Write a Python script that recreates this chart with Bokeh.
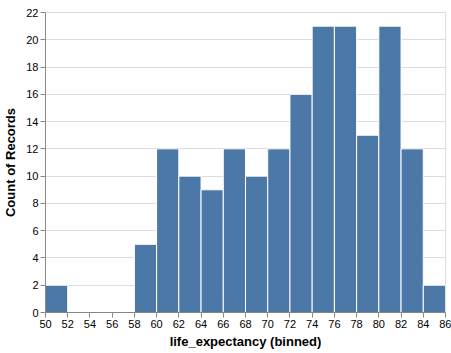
from bokeh.plotting import figure
from bokeh.models import FixedTicker, ColumnDataSource
from bokeh.embed import file_html
from bokeh.resources import INLINE

bin_start = [50, 52, 54, 56, 58, 60, 62, 64, 66, 68, 70, 72, 74, 76, 78, 80, 82, 84]
bin_end = [52, 54, 56, 58, 60, 62, 64, 66, 68, 70, 72, 74, 76, 78, 80, 82, 84, 86]
counts = [2, 0, 0, 0, 5, 12, 10, 9, 12, 10, 12, 16, 21, 21, 13, 21, 12, 2]
x_ticks = list(range(50, 87, 2))
y_ticks = list(range(0, 23, 2))

src = ColumnDataSource(dict(left=bin_start, right=bin_end, top=counts, bottom=[0] * len(counts)))

p = figure(width=451, height=353, output_backend="svg", toolbar_location=None,
           x_range=(50, 86), y_range=(0, 22),
           min_border_left=45, min_border_right=6, min_border_top=12, min_border_bottom=41)
p.outline_line_color = "#dddddd"
p.quad(left="left", right="right", top="top", bottom="bottom", source=src,
       fill_color="#4c78a8", line_color="white", line_width=1)

font = "Liberation Sans"
for ax in (p.xaxis[0], p.yaxis[0]):
    ax.axis_line_color = "#888888"
    ax.major_tick_line_color = "#888888"
    ax.major_tick_out = 5
    ax.major_tick_in = 0
    ax.minor_tick_line_color = None
    ax.major_label_text_font = font
    ax.major_label_text_font_size = "11px"
    ax.major_label_text_color = "#000000"
    ax.axis_label_text_font = font
    ax.axis_label_text_font_size = "13px"
    ax.axis_label_text_font_style = "bold"
    ax.axis_label_text_color = "#000000"
    ax.major_label_standoff = 2

p.xaxis.ticker = FixedTicker(ticks=x_ticks)
p.yaxis.ticker = FixedTicker(ticks=y_ticks)
p.xaxis.axis_label = "life_expectancy (binned)"
p.yaxis.axis_label = "Count of Records"
p.xaxis.axis_label_standoff = 3
p.yaxis.axis_label_standoff = 5
p.xgrid.grid_line_color = None
p.ygrid.grid_line_color = "#dddddd"
p.ygrid.ticker = FixedTicker(ticks=y_ticks)

open("out.html", "w").write(file_html(p, INLINE))
